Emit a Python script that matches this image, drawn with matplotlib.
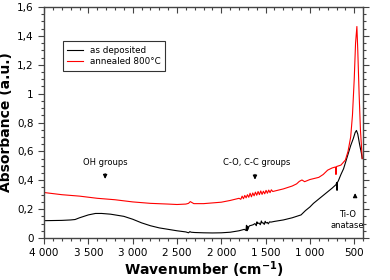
import matplotlib
matplotlib.use("Agg")
import matplotlib.pyplot as plt
from matplotlib.ticker import MultipleLocator, FuncFormatter

# as deposited (black)
wn_dep = [4000, 3900, 3800, 3700, 3650, 3600, 3500, 3420, 3350, 3250, 3100, 3000,
          2900, 2800, 2700, 2600, 2500, 2400, 2370, 2355, 2340, 2300, 2200, 2100,
          2000, 1900, 1800, 1740, 1722, 1716, 1710, 1704, 1698, 1690, 1680, 1660,
          1640, 1620, 1605, 1598, 1590, 1575, 1560, 1548, 1540, 1530, 1515, 1505,
          1495, 1480, 1470, 1455, 1440, 1400, 1300, 1200, 1100, 1050, 1000, 960,
          900, 850, 800, 750, 705, 698, 694, 690, 680, 650, 620, 580, 540, 510,
          490, 475, 460, 440, 420, 410]
abs_dep = [0.120, 0.121, 0.122, 0.125, 0.128, 0.140, 0.160, 0.170, 0.170, 0.165, 0.150, 0.130,
           0.105, 0.085, 0.070, 0.060, 0.050, 0.042, 0.036, 0.044, 0.040, 0.038, 0.036, 0.035,
           0.036, 0.040, 0.050, 0.060, 0.052, 0.088, 0.050, 0.082, 0.060, 0.078, 0.085, 0.088,
           0.092, 0.100, 0.085, 0.112, 0.100, 0.104, 0.092, 0.118, 0.104, 0.106, 0.094, 0.116,
           0.104, 0.108, 0.098, 0.112, 0.110, 0.115, 0.125, 0.140, 0.160, 0.190, 0.215, 0.240,
           0.270, 0.295, 0.320, 0.345, 0.370, 0.385, 0.330, 0.385, 0.395, 0.440, 0.480, 0.560,
           0.640, 0.690, 0.730, 0.745, 0.720, 0.650, 0.590, 0.550]

# annealed 800 C (red)
wn_ann = [4000, 3800, 3600, 3400, 3200, 3000, 2800, 2600, 2500, 2400, 2370, 2350,
          2330, 2310, 2200, 2000, 1900, 1800, 1780, 1765, 1750, 1735, 1720, 1705,
          1690, 1675, 1660, 1645, 1630, 1615, 1600, 1585, 1570, 1555, 1540, 1525,
          1510, 1495, 1480, 1465, 1450, 1435, 1420, 1400, 1300, 1200, 1150, 1120,
          1090, 1060, 1000, 900, 850, 800, 750, 712, 706, 700, 650, 600, 570, 540,
          520, 500, 485, 470, 460, 445, 430, 415, 410]
abs_ann = [0.315, 0.300, 0.290, 0.275, 0.265, 0.250, 0.240, 0.235, 0.232, 0.235, 0.240, 0.252,
           0.245, 0.238, 0.238, 0.248, 0.260, 0.275, 0.268, 0.290, 0.272, 0.295, 0.278, 0.300,
           0.282, 0.310, 0.285, 0.312, 0.292, 0.318, 0.296, 0.322, 0.300, 0.326, 0.302, 0.324,
           0.306, 0.330, 0.310, 0.332, 0.314, 0.334, 0.322, 0.325, 0.340, 0.360, 0.375, 0.392,
           0.402, 0.390, 0.405, 0.420, 0.440, 0.470, 0.485, 0.492, 0.440, 0.495, 0.505, 0.540,
           0.600, 0.700, 0.850, 1.100, 1.350, 1.465, 1.300, 1.000, 0.750, 0.600, 0.550]

labels = ["as deposited", "annealed 800°C"]
colors = ["black", "red"]

fig = plt.figure(figsize=(3.9, 2.8), dpi=100)
ax = fig.add_axes([0.113, 0.15, 0.818, 0.825])

ax.plot(wn_dep, abs_dep, color=colors[0], lw=0.8, label=labels[0])
ax.plot(wn_ann, abs_ann, color=colors[1], lw=0.8, label=labels[1])

ax.set_xlim(4000, 400)
ax.set_ylim(0, 1.6)

ax.xaxis.set_major_locator(MultipleLocator(500))
ax.xaxis.set_minor_locator(MultipleLocator(100))
ax.yaxis.set_major_locator(MultipleLocator(0.2))
ax.yaxis.set_minor_locator(MultipleLocator(0.05))


def xfmt(v, pos):
    return f"{int(round(v)):,}".replace(",", " ")


def yfmt(v, pos):
    s = f"{v:.1f}".replace(".", ",")
    if s.endswith(",0"):
        s = s[:-2]
    return s


ax.xaxis.set_major_formatter(FuncFormatter(xfmt))
ax.yaxis.set_major_formatter(FuncFormatter(yfmt))

ax.tick_params(which="both", top=True, right=True, colors="#444444",
               labelcolor="black", labelsize=7.5, width=0.8)
ax.tick_params(which="major", length=4, direction="out")
ax.tick_params(which="minor", length=2, direction="out")
for t in ax.xaxis.get_major_ticks() + ax.xaxis.get_minor_ticks():
    t.tick2line.set_marker(3)  # top ticks point inward
for s in ax.spines.values():
    s.set_color("#444444")
    s.set_linewidth(1.0)

ax.set_xlabel("Wavenumber (cm$^{\\mathbf{-1}}$)", fontsize=10, fontweight="bold", labelpad=1)
ax.set_ylabel("Absorbance (a.u.)", fontsize=10, fontweight="bold", labelpad=3)

ax.text(3311, 0.52, "OH groups", fontsize=6, ha="center", va="center")
ax.annotate("", xy=(3311, 0.39), xytext=(3311, 0.465),
            arrowprops=dict(arrowstyle="-|>", color="black", lw=0.8, mutation_scale=6))
ax.text(1596, 0.52, "C-O, C-C groups", fontsize=6, ha="center", va="center")
ax.annotate("", xy=(1620, 0.385), xytext=(1620, 0.46),
            arrowprops=dict(arrowstyle="-|>", color="black", lw=0.8, mutation_scale=6))
ax.text(580, 0.125, "Ti-O\nanatase", fontsize=6, ha="center", va="center",
        linespacing=1.3)
ax.annotate("", xy=(490, 0.33), xytext=(490, 0.265),
            arrowprops=dict(arrowstyle="-|>", color="black", lw=0.8, mutation_scale=6))

leg = ax.legend(loc="upper left", bbox_to_anchor=(0.045, 0.87), fontsize=6.3,
                frameon=True, fancybox=False, edgecolor="black", handlelength=1.8,
                borderpad=0.5, labelspacing=0.3, handletextpad=0.8)
leg.get_frame().set_linewidth(0.8)

fig.savefig("out.png", dpi=100)
